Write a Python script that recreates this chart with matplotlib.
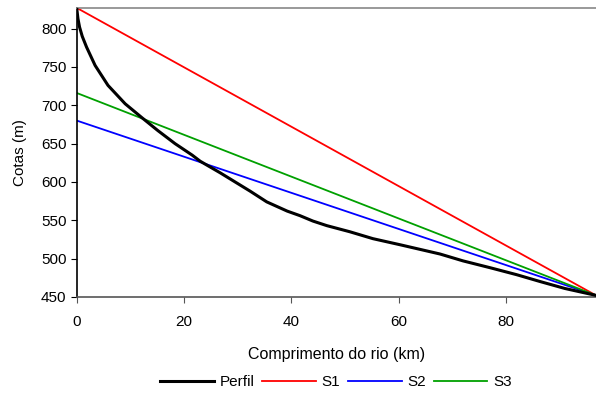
import matplotlib
matplotlib.use('Agg')
import matplotlib.pyplot as plt

# river profile
perfil_x = [0, 0.2, 0.5, 1.0, 1.8, 3.4, 5.8, 9.0, 12.1, 15.1, 18.3, 21.5, 23.0, 26.7, 29.5, 32.3, 35.4,
            39.2, 41.6, 44.0, 46.6, 50.9, 55.2, 60.3, 64.0, 67.7, 72.0, 77.1, 82.0, 86.4, 91.0, 96.8]
perfil_y = [825, 813, 802, 790, 776, 752, 726, 702, 684, 667, 650, 635, 627, 612, 600, 588, 574,
            562, 556, 549, 543, 535, 526, 518, 512, 506, 497, 488, 479, 470, 461, 452]

# straight slopes: start and end points
s_x = [0, 96.8]
s1_y = [827, 452]
s2_y = [680, 452]
s3_y = [716, 452]

plt.rcParams['font.family'] = ['Liberation Sans', 'DejaVu Sans']

fig = plt.figure(figsize=(5.96, 3.98), dpi=100)
ax = fig.add_axes([0.129, 0.254, 0.871, 0.726])

ax.plot(perfil_x, perfil_y, color='black', lw=2.2, label='Perfil', zorder=5)
ax.plot(s_x, s1_y, color='#ff0000', lw=1.3, label='S1')
ax.plot(s_x, s2_y, color='#0000ff', lw=1.3, label='S2')
ax.plot(s_x, s3_y, color='#00a000', lw=1.3, label='S3')

ax.set_xlim(0, 96.8)
ax.set_ylim(450, 827)
ax.set_xticks([0, 20, 40, 60, 80])
ax.set_yticks(range(450, 801, 50))
ax.tick_params(direction='out', length=4, labelsize=11, colors='black')
ax.tick_params(axis='x', color='#555555', pad=9)

ax.spines['right'].set_visible(False)
ax.spines['top'].set_color('#888888')
ax.spines['bottom'].set_color('#555555')
ax.spines['left'].set_color('black')
for s in ax.spines.values():
    s.set_linewidth(1.2)

ax.set_xlabel('Comprimento do rio (km)', fontsize=11.5, labelpad=13)
ax.set_ylabel('Cotas (m)', fontsize=11, labelpad=10)

fig.legend(loc='center', bbox_to_anchor=(0.564, 0.04), ncol=4, frameon=False,
           fontsize=11, handlelength=3.5, handletextpad=0.4, columnspacing=0.5)

fig.savefig('out.png', dpi=100)
